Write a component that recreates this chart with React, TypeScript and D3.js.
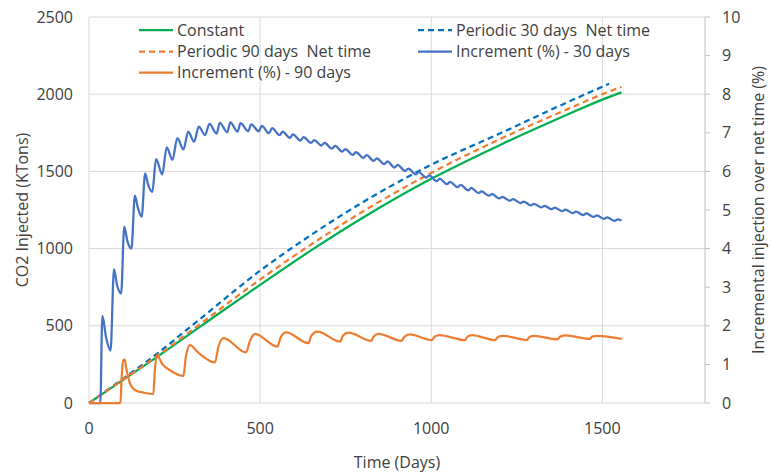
import React from "react";
import * as d3 from "d3";

type P = [number, number];

const xTicks = [0, 500, 1000, 1500];
const yLeftTicks = [0, 500, 1000, 1500, 2000, 2500];
const yRightTicks = [0, 1, 2, 3, 4, 5, 6, 7, 8, 9, 10];

// CO2 injected (KTons) vs days
const constantData: P[] = [
  [0, 0], [100, 150], [200, 300], [325, 495], [500, 765], [650, 990], [800, 1200],
  [1000, 1452], [1200, 1670], [1400, 1870], [1500, 1965], [1556, 2012],
];
const periodic30Data: P[] = [
  [0, 0], [100, 158], [200, 322], [325, 545], [500, 857], [650, 1090], [800, 1300],
  [1000, 1543], [1200, 1745], [1400, 1950], [1520, 2068],
];
const periodic90Data: P[] = [
  [0, 0], [100, 152], [200, 306], [325, 512], [500, 800], [650, 1028], [800, 1240],
  [1000, 1490], [1200, 1708], [1400, 1905], [1500, 2000], [1556, 2047],
];

// Incremental injection over net time (%)
const increment30Data: P[] = [
  [0, 0], [33, 0], [39, 2.26], [50, 1.7], [63, 1.36], [73, 3.46], [82, 3.05], [94, 2.84],
  [103, 4.57], [112, 4.2], [124, 4.0], [134, 5.37], [143, 5.05], [154, 4.83],
  [164, 5.95], [173, 5.65], [185, 5.47], [196, 6.32], [214, 5.92], [227, 6.62],
  [244, 6.3], [258, 6.86], [276, 6.57], [290, 7.03], [307, 6.77], [321, 7.16],
  [339, 6.94], [352, 7.23], [373, 6.98], [382, 7.26], [404, 7.01], [413, 7.27],
  [434, 7.03], [443, 7.25], [465, 7.04], [474, 7.22], [496, 7.04], [505, 7.18],
  [526, 6.99], [535, 7.12], [557, 6.94], [566, 7.03], [587, 6.87], [596, 6.96],
  [618, 6.8], [627, 6.89], [649, 6.74], [658, 6.81], [679, 6.67], [688, 6.74],
  [710, 6.59], [719, 6.66], [740, 6.51], [749, 6.58], [771, 6.43], [780, 6.5],
  [802, 6.35], [811, 6.42], [832, 6.27], [841, 6.34], [863, 6.19], [872, 6.26],
  [893, 6.1], [902, 6.17], [924, 6.01], [933, 6.07], [955, 5.92], [964, 5.98],
  [985, 5.84], [994, 5.9], [1016, 5.75], [1025, 5.81], [1046, 5.67], [1055, 5.73],
  [1077, 5.59], [1086, 5.65], [1108, 5.51], [1117, 5.57], [1138, 5.44], [1147, 5.48],
  [1169, 5.37], [1178, 5.41], [1199, 5.3], [1208, 5.34], [1230, 5.24], [1239, 5.28],
  [1261, 5.18], [1270, 5.22], [1291, 5.12], [1300, 5.16], [1322, 5.07], [1331, 5.11],
  [1352, 5.02], [1361, 5.06], [1383, 4.97], [1392, 5.01], [1414, 4.92], [1423, 4.96],
  [1444, 4.87], [1453, 4.91], [1475, 4.82], [1484, 4.86], [1505, 4.77], [1514, 4.81],
  [1536, 4.72], [1545, 4.76], [1556, 4.73],
];
const increment90Data: P[] = [
  [0, 0], [92, 0], [95, 0.6], [100, 1.1], [104, 1.13], [110, 0.85], [120, 0.5],
  [135, 0.33], [159, 0.27], [188, 0.23], [192, 0.8], [198, 1.24], [215, 1.0],
  [240, 0.83], [276, 0.7], [283, 1.2], [295, 1.5], [320, 1.3], [368, 1.05],
  [378, 1.45], [393, 1.68], [459, 1.31], [470, 1.6], [485, 1.79], [551, 1.46],
  [560, 1.7], [576, 1.83], [641, 1.55], [650, 1.75], [668, 1.85], [734, 1.59],
  [742, 1.74], [758, 1.82], [825, 1.61], [832, 1.72], [846, 1.79], [914, 1.61],
  [921, 1.71], [937, 1.78], [1002, 1.63], [1010, 1.72], [1024, 1.76], [1099, 1.63],
  [1106, 1.72], [1119, 1.76], [1187, 1.63], [1195, 1.71], [1211, 1.74], [1280, 1.63],
  [1287, 1.71], [1300, 1.74], [1369, 1.65], [1377, 1.72], [1392, 1.75], [1463, 1.66],
  [1470, 1.72], [1484, 1.74], [1557, 1.66],
];

const W = 771;
const H = 474;
const M = { left: 89, right: 705, top: 17, bottom: 403 };
const FONT = "'Open Sans', 'Liberation Sans', sans-serif";
const TXT = "#404040";
const FS = 16;

export default function App() {
  const x = d3.scaleLinear().domain([0, 1800]).range([M.left, M.right]);
  const yL = d3.scaleLinear().domain([0, 2500]).range([M.bottom, M.top]);
  const yR = d3.scaleLinear().domain([0, 10]).range([M.bottom, M.top]);

  const lineL = d3.line<P>().x((d) => x(d[0])).y((d) => yL(d[1])).curve(d3.curveMonotoneX);
  const lineR = d3.line<P>().x((d) => x(d[0])).y((d) => yR(d[1])).curve(d3.curveMonotoneX);

  const legend = [
    { label: "Constant", color: "#00B050", dash: "", lx: 139, y: 30 },
    { label: "Periodic 90 days  Net time", color: "#ED7D31", dash: "6,4", lx: 139, y: 51.5 },
    { label: "Increment (%) - 90 days", color: "#ED7D31", dash: "", lx: 139, y: 72.5 },
    { label: "Periodic 30 days  Net time", color: "#0070C0", dash: "6,4", lx: 418, y: 30 },
    { label: "Increment (%) - 30 days", color: "#4472C4", dash: "", lx: 418, y: 51.5 },
  ];

  return (
    <svg width={W} height={H} style={{ position: "absolute", left: 0, top: 0, background: "#fff" }} fontFamily={FONT}>
      <rect width={W} height={H} fill="#fff" />
      {/* gridlines */}
      {yLeftTicks.map((t) => (
        <line key={"gy" + t} x1={M.left} x2={M.right} y1={yL(t)} y2={yL(t)} stroke="#D9D9D9" strokeWidth={1} />
      ))}
      {xTicks.map((t) => (
        <line key={"gx" + t} x1={x(t)} x2={x(t)} y1={M.top} y2={M.bottom} stroke="#D9D9D9" strokeWidth={1} />
      ))}
      {/* right axis */}
      <line x1={M.right} x2={M.right} y1={M.top} y2={M.bottom} stroke="#BFBFBF" strokeWidth={1} />
      {yRightTicks.map((t) => (
        <line key={"rt" + t} x1={M.right} x2={M.right + 5} y1={yR(t)} y2={yR(t)} stroke="#BFBFBF" strokeWidth={1} />
      ))}
      {/* tick labels */}
      {yLeftTicks.map((t) => (
        <text key={"yl" + t} x={73} y={yL(t)} dy="0.35em" textAnchor="end" fontSize={FS} fill={TXT}>{t}</text>
      ))}
      {yRightTicks.map((t) => (
        <text key={"yr" + t} x={722} y={yR(t)} dy="0.35em" textAnchor="start" fontSize={FS} fill={TXT}>{t}</text>
      ))}
      {xTicks.map((t) => (
        <text key={"xl" + t} x={x(t)} y={428} dy="0.35em" textAnchor="middle" fontSize={FS} fill={TXT}>{t}</text>
      ))}
      {/* axis titles */}
      <text x={(M.left + M.right) / 2} y={462} dy="0.35em" textAnchor="middle" fontSize={FS} fill={TXT}>Time (Days)</text>
      <text transform={`translate(22,${(M.top + M.bottom) / 2}) rotate(-90)`} dy="0.35em" textAnchor="middle" fontSize={FS} fill={TXT}>CO2 Injected (KTons)</text>
      <text transform={`translate(758,${(M.top + M.bottom) / 2}) rotate(-90)`} dy="0.35em" textAnchor="middle" fontSize={FS} fill={TXT}>Incremental injection over net time (%)</text>
      {/* series */}
      <path d={lineL(constantData) || ""} fill="none" stroke="#00B050" strokeWidth={2.25} />
      <path d={lineL(periodic30Data) || ""} fill="none" stroke="#0070C0" strokeWidth={2.25} strokeDasharray="6,4" />
      <path d={lineL(periodic90Data) || ""} fill="none" stroke="#ED7D31" strokeWidth={2.25} strokeDasharray="6,4" />
      <path d={lineR(increment30Data) || ""} fill="none" stroke="#4472C4" strokeWidth={2.25} strokeLinejoin="round" />
      <path d={lineR(increment90Data) || ""} fill="none" stroke="#ED7D31" strokeWidth={2.25} strokeLinejoin="round" />
      {/* legend */}
      {legend.map((l) => (
        <g key={l.label}>
          <line x1={l.lx} x2={l.lx + 34} y1={l.y} y2={l.y} stroke={l.color} strokeWidth={2.25} strokeDasharray={l.dash || undefined} />
          <text x={l.lx + 38} y={l.y} dy="0.35em" fontSize={FS} fill={TXT} style={{ whiteSpace: "pre" }}>{l.label}</text>
        </g>
      ))}
    </svg>
  );
}
